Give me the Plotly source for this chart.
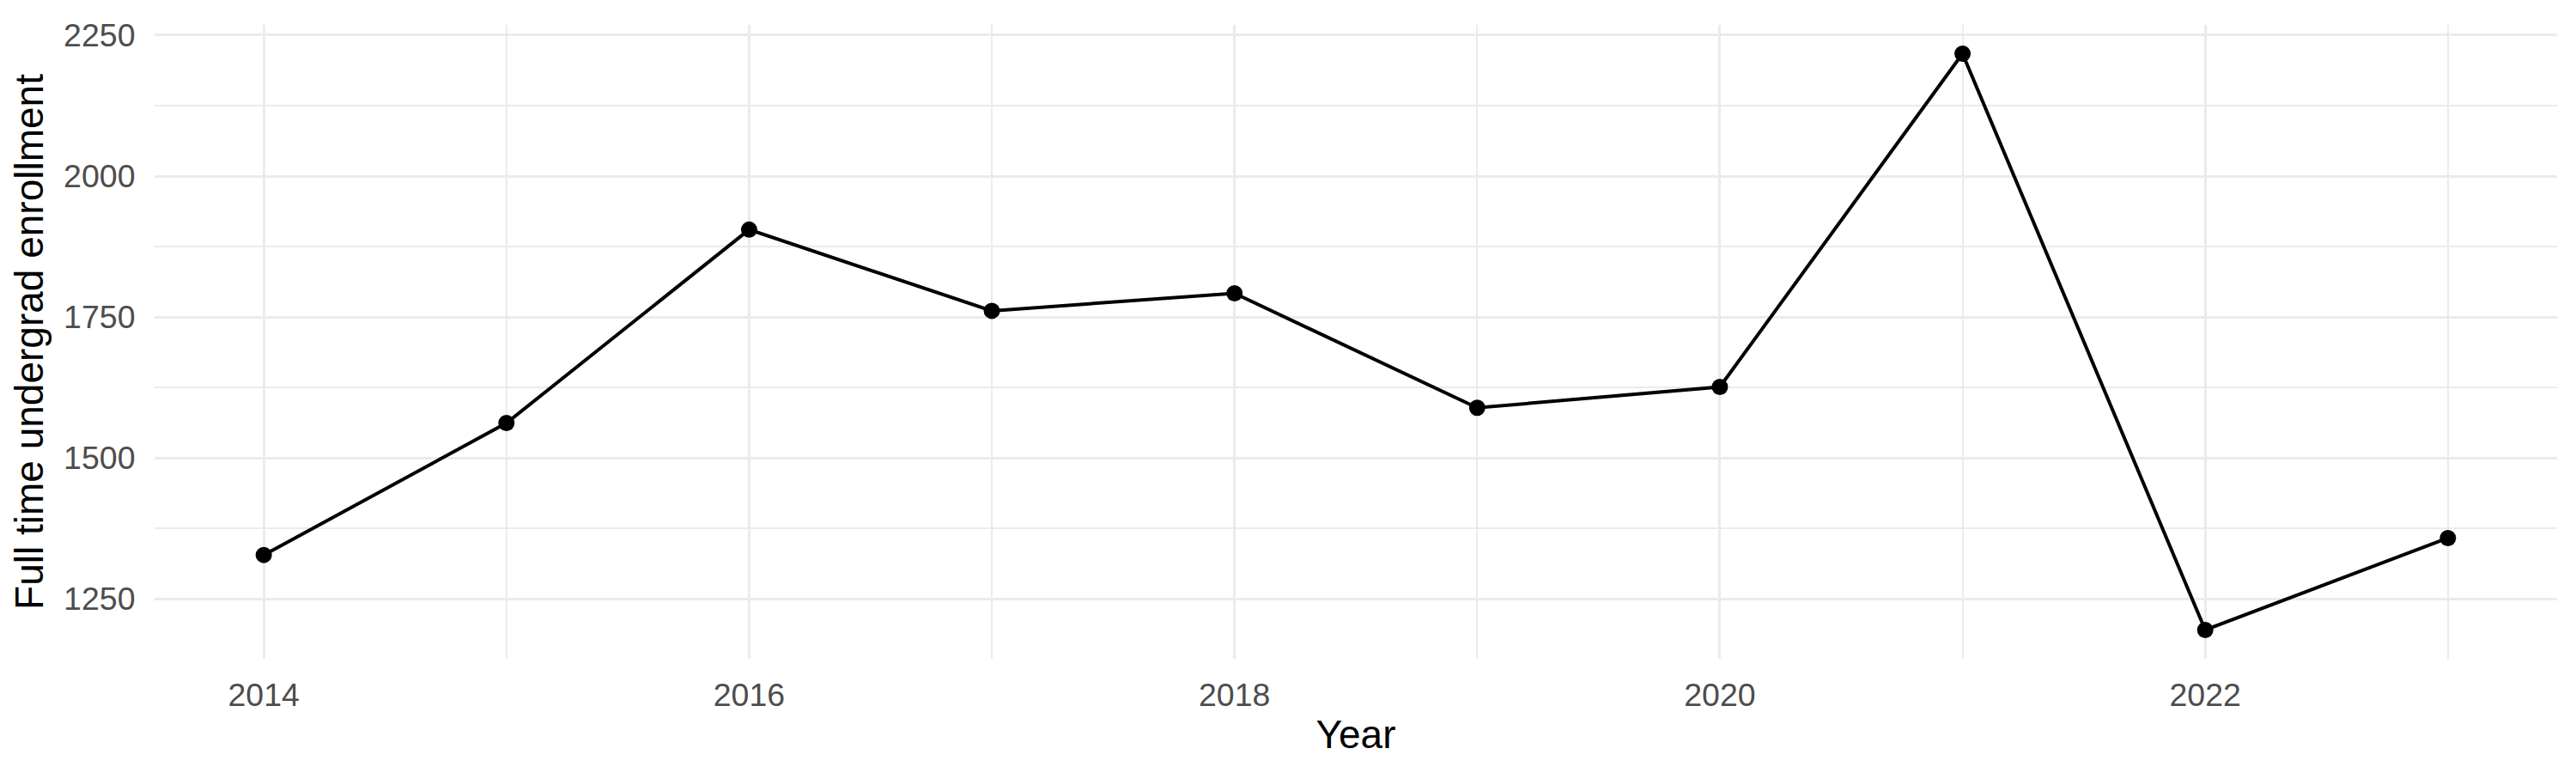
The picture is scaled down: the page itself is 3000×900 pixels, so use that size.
import plotly.graph_objects as go

# --- DATA ---
YEARS = [2014, 2015, 2016, 2017, 2018, 2019, 2020, 2021, 2022, 2023]
ENROLLMENT = [1328, 1562, 1905, 1761, 1792, 1589, 1626, 2217, 1195, 1358]
Y_TICKS = [1250, 1500, 1750, 2000, 2250]

# --- STYLE ---
# the page body adds an 8px margin, so the figure is a bit smaller than the window
WIDTH, HEIGHT = 2984, 884
FONT = "Liberation Sans"
GRID = "#EBEBEB"
TICK_GRAY = "#4D4D4D"

fig = go.Figure()
fig.add_trace(go.Scatter(
    x=YEARS, y=ENROLLMENT, mode="lines+markers",
    line=dict(color="black", width=4),
    marker=dict(color="black", size=19),
))

# ggplot-like 5% expansion of the data range
xpad = (max(YEARS) - min(YEARS)) * 0.05
ypad = (max(ENROLLMENT) - min(ENROLLMENT)) * 0.05

fig.update_layout(
    width=WIDTH, height=HEIGHT,
    paper_bgcolor="white", plot_bgcolor="white",
    showlegend=False,
    margin=dict(l=172, r=14, t=15, b=125),
    font=dict(family=FONT),
    xaxis=dict(
        range=[min(YEARS) - xpad, max(YEARS) + xpad],
        tick0=2014, dtick=2,
        showgrid=True, gridcolor=GRID, gridwidth=3.4,
        minor=dict(dtick=1, tick0=2014, showgrid=True, gridcolor=GRID, gridwidth=1.8),
        zeroline=False, showline=False,
        ticks="outside", ticklen=9, tickcolor="rgba(0,0,0,0)",
        tickfont=dict(size=37.5, color=TICK_GRAY),
        title=dict(text="Year", font=dict(size=46, color="black"), standoff=9),
    ),
    yaxis=dict(
        range=[min(ENROLLMENT) - ypad, max(ENROLLMENT) + ypad],
        tickvals=Y_TICKS,
        showgrid=True, gridcolor=GRID, gridwidth=3.4,
        minor=dict(dtick=125, tick0=1250, showgrid=True, gridcolor=GRID, gridwidth=1.8),
        zeroline=False, showline=False,
        ticks="outside", ticklen=14, tickcolor="rgba(0,0,0,0)",
        tickfont=dict(size=37.5, color=TICK_GRAY),
        title=dict(text="Full time undergrad enrollment", font=dict(size=46, color="black"), standoff=12),
    ),
)

fig.write_html("out.html")
